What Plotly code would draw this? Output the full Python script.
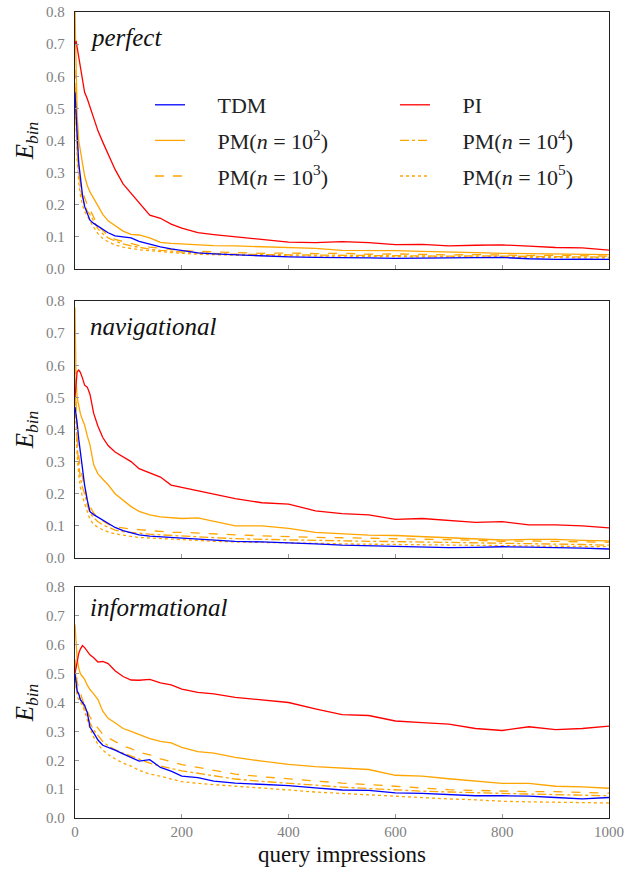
import plotly.graph_objects as go
from plotly.subplots import make_subplots

# query impressions (sample positions)
X = [0, 2, 4, 7, 10, 14, 18, 23, 28, 35, 43, 52, 62, 75, 90, 105, 120, 140, 160, 180,
     200, 230, 260, 300, 350, 400, 450, 500, 550, 600, 650, 700, 750, 800, 850, 900, 950, 1000]

# ---- panel 1: perfect ----
perfect_TDM = [0.55, 0.50, 0.42, 0.33, 0.28, 0.23, 0.195, 0.172, 0.152, 0.142, 0.133, 0.125, 0.113, 0.103, 0.100, 0.097, 0.086, 0.077, 0.069, 0.063,
               0.058, 0.050, 0.047, 0.044, 0.041, 0.038, 0.036, 0.036, 0.035, 0.033, 0.034, 0.035, 0.034, 0.036, 0.032, 0.030, 0.031, 0.030]
perfect_PI = [0.70, 0.71, 0.69, 0.66, 0.62, 0.58, 0.55, 0.53, 0.505, 0.47, 0.43, 0.395, 0.36, 0.31, 0.265, 0.235, 0.205, 0.168, 0.158, 0.140,
              0.127, 0.113, 0.107, 0.100, 0.093, 0.084, 0.082, 0.085, 0.082, 0.076, 0.077, 0.072, 0.074, 0.075, 0.071, 0.067, 0.066, 0.059]
perfect_PM2 = [0.80, 0.62, 0.48, 0.40, 0.37, 0.32, 0.29, 0.26, 0.24, 0.22, 0.195, 0.17, 0.15, 0.135, 0.118, 0.108, 0.106, 0.097, 0.083, 0.080,
               0.078, 0.076, 0.073, 0.072, 0.070, 0.066, 0.064, 0.058, 0.058, 0.057, 0.055, 0.052, 0.051, 0.049, 0.048, 0.047, 0.046, 0.045]
perfect_PM3 = [0.62, 0.50, 0.40, 0.32, 0.27, 0.24, 0.22, 0.20, 0.185, 0.16, 0.135, 0.12, 0.105, 0.092, 0.085, 0.080, 0.073, 0.068, 0.065, 0.060,
               0.058, 0.055, 0.053, 0.050, 0.049, 0.050, 0.048, 0.049, 0.046, 0.047, 0.045, 0.044, 0.045, 0.043, 0.042, 0.043, 0.041, 0.040]
perfect_PM4 = [0.58, 0.46, 0.37, 0.30, 0.25, 0.22, 0.20, 0.18, 0.17, 0.15, 0.125, 0.11, 0.097, 0.087, 0.078, 0.072, 0.067, 0.062, 0.058, 0.055,
               0.053, 0.050, 0.048, 0.046, 0.045, 0.044, 0.043, 0.044, 0.042, 0.042, 0.041, 0.040, 0.041, 0.040, 0.039, 0.038, 0.038, 0.037]
perfect_PM5 = [0.55, 0.42, 0.34, 0.27, 0.23, 0.20, 0.18, 0.165, 0.15, 0.13, 0.11, 0.095, 0.085, 0.075, 0.068, 0.063, 0.060, 0.057, 0.054, 0.051,
               0.049, 0.046, 0.044, 0.043, 0.042, 0.041, 0.040, 0.040, 0.039, 0.039, 0.038, 0.038, 0.037, 0.037, 0.036, 0.036, 0.035, 0.035]

# ---- panel 2: navigational ----
nav_TDM = [0.47, 0.45, 0.42, 0.37, 0.33, 0.28, 0.227, 0.18, 0.144, 0.135, 0.127, 0.118, 0.107, 0.095, 0.085, 0.078, 0.072, 0.068, 0.066, 0.063,
           0.061, 0.059, 0.056, 0.052, 0.050, 0.048, 0.044, 0.040, 0.038, 0.035, 0.034, 0.032, 0.033, 0.035, 0.034, 0.033, 0.031, 0.028]
nav_PI = [0.50, 0.55, 0.58, 0.585, 0.578, 0.56, 0.538, 0.532, 0.51, 0.45, 0.41, 0.375, 0.35, 0.33, 0.315, 0.300, 0.278, 0.265, 0.252, 0.227,
          0.220, 0.210, 0.200, 0.185, 0.172, 0.168, 0.147, 0.138, 0.134, 0.120, 0.123, 0.118, 0.111, 0.113, 0.103, 0.103, 0.100, 0.094]
nav_PM2 = [0.78, 0.55, 0.50, 0.47, 0.45, 0.43, 0.414, 0.38, 0.352, 0.29, 0.262, 0.245, 0.228, 0.20, 0.18, 0.16, 0.145, 0.134, 0.128, 0.125,
           0.123, 0.125, 0.115, 0.100, 0.100, 0.092, 0.080, 0.075, 0.071, 0.070, 0.066, 0.062, 0.060, 0.056, 0.058, 0.058, 0.055, 0.053]
nav_PM3 = [0.60, 0.45, 0.38, 0.32, 0.28, 0.25, 0.22, 0.18, 0.16, 0.14, 0.125, 0.115, 0.105, 0.097, 0.093, 0.090, 0.088, 0.085, 0.082, 0.080,
           0.080, 0.077, 0.074, 0.072, 0.069, 0.066, 0.064, 0.063, 0.062, 0.060, 0.058, 0.057, 0.055, 0.052, 0.053, 0.051, 0.050, 0.049]
nav_PM4 = [0.56, 0.42, 0.35, 0.29, 0.25, 0.22, 0.20, 0.165, 0.14, 0.125, 0.113, 0.103, 0.095, 0.087, 0.082, 0.079, 0.076, 0.074, 0.072, 0.070,
           0.068, 0.065, 0.063, 0.060, 0.058, 0.056, 0.054, 0.053, 0.052, 0.051, 0.050, 0.048, 0.047, 0.046, 0.045, 0.044, 0.042, 0.040]
nav_PM5 = [0.52, 0.39, 0.32, 0.26, 0.22, 0.19, 0.17, 0.14, 0.12, 0.105, 0.095, 0.088, 0.081, 0.075, 0.070, 0.067, 0.064, 0.062, 0.060, 0.058,
           0.056, 0.054, 0.052, 0.050, 0.048, 0.046, 0.045, 0.044, 0.043, 0.042, 0.041, 0.040, 0.039, 0.038, 0.037, 0.036, 0.036, 0.035]

# ---- panel 3: informational ----
inf_TDM = [0.50, 0.47, 0.44, 0.43, 0.41, 0.40, 0.39, 0.365, 0.315, 0.295, 0.27, 0.252, 0.245, 0.235, 0.222, 0.210, 0.197, 0.202, 0.175, 0.162,
           0.145, 0.140, 0.128, 0.121, 0.117, 0.112, 0.104, 0.097, 0.096, 0.087, 0.085, 0.081, 0.077, 0.077, 0.076, 0.071, 0.066, 0.071]
inf_PI = [0.50, 0.52, 0.55, 0.57, 0.585, 0.597, 0.59, 0.578, 0.565, 0.555, 0.54, 0.542, 0.535, 0.51, 0.49, 0.478, 0.477, 0.48, 0.468, 0.461,
          0.446, 0.435, 0.43, 0.418, 0.41, 0.40, 0.378, 0.358, 0.355, 0.336, 0.33, 0.325, 0.31, 0.303, 0.316, 0.306, 0.31, 0.318]
inf_PM2 = [0.67, 0.60, 0.55, 0.52, 0.50, 0.49, 0.48, 0.46, 0.445, 0.43, 0.41, 0.37, 0.345, 0.33, 0.31, 0.30, 0.29, 0.275, 0.265, 0.26,
           0.245, 0.23, 0.225, 0.21, 0.197, 0.186, 0.178, 0.174, 0.168, 0.148, 0.145, 0.136, 0.128, 0.120, 0.120, 0.110, 0.108, 0.103]
inf_PM3 = [0.55, 0.50, 0.47, 0.45, 0.43, 0.41, 0.39, 0.37, 0.35, 0.33, 0.31, 0.29, 0.278, 0.265, 0.25, 0.24, 0.228, 0.219, 0.205, 0.195,
           0.185, 0.175, 0.165, 0.152, 0.143, 0.135, 0.127, 0.121, 0.116, 0.109, 0.104, 0.098, 0.096, 0.092, 0.091, 0.091, 0.088, 0.086]
inf_PM4 = [0.52, 0.47, 0.44, 0.42, 0.41, 0.40, 0.38, 0.355, 0.33, 0.305, 0.285, 0.265, 0.25, 0.237, 0.225, 0.215, 0.203, 0.19, 0.18, 0.172,
           0.163, 0.155, 0.146, 0.135, 0.127, 0.120, 0.113, 0.107, 0.102, 0.097, 0.093, 0.090, 0.087, 0.085, 0.083, 0.081, 0.079, 0.077]
inf_PM5 = [0.48, 0.44, 0.42, 0.41, 0.40, 0.39, 0.37, 0.34, 0.31, 0.28, 0.255, 0.235, 0.22, 0.205, 0.19, 0.18, 0.165, 0.152, 0.145, 0.135,
           0.126, 0.120, 0.115, 0.110, 0.104, 0.096, 0.090, 0.085, 0.080, 0.075, 0.070, 0.066, 0.063, 0.058, 0.056, 0.055, 0.053, 0.052]

PANEL_LABELS = ["perfect", "navigational", "informational"]
X_TICKS = [0, 200, 400, 600, 800, 1000]
Y_TICKS = [0.0, 0.1, 0.2, 0.3, 0.4, 0.5, 0.6, 0.7, 0.8]

LEGEND_TEXT = {
    "TDM": "TDM",
    "PI": "PI",
    "PM2": "PM(<i>n</i> = 10<sup>2</sup>)",
    "PM3": "PM(<i>n</i> = 10<sup>3</sup>)",
    "PM4": "PM(<i>n</i> = 10<sup>4</sup>)",
    "PM5": "PM(<i>n</i> = 10<sup>5</sup>)",
}

panels = [
    {"TDM": perfect_TDM, "PI": perfect_PI, "PM2": perfect_PM2, "PM3": perfect_PM3, "PM4": perfect_PM4, "PM5": perfect_PM5},
    {"TDM": nav_TDM, "PI": nav_PI, "PM2": nav_PM2, "PM3": nav_PM3, "PM4": nav_PM4, "PM5": nav_PM5},
    {"TDM": inf_TDM, "PI": inf_PI, "PM2": inf_PM2, "PM3": inf_PM3, "PM4": inf_PM4, "PM5": inf_PM5},
]

style = {
    "TDM": dict(color="#0000ff", dash="solid"),
    "PI": dict(color="#ff0000", dash="solid"),
    "PM2": dict(color="#ffa500", dash="solid"),
    "PM3": dict(color="#ffa500", dash="dash"),
    "PM4": dict(color="#ffa500", dash="dashdot"),
    "PM5": dict(color="#ffa500", dash="dot"),
}
legend_of = {"TDM": "legend", "PM2": "legend", "PM3": "legend",
             "PI": "legend2", "PM4": "legend2", "PM5": "legend2"}

FONT = "Liberation Serif"
fig = make_subplots(rows=3, cols=1)

draw_order = ["PM5", "PM4", "PM3", "PM2", "PI", "TDM"]
legend_order = ["TDM", "PM2", "PM3", "PI", "PM4", "PM5"]
for r, data in enumerate(panels, start=1):
    for key in draw_order:
        st = style[key]
        fig.add_trace(go.Scatter(
            x=X, y=data[key], mode="lines",
            line=dict(color=st["color"], width=1.3, dash=st["dash"]),
            name="&nbsp;&nbsp;&nbsp;&nbsp;&nbsp;" + LEGEND_TEXT[key],
            legend=legend_of[key], legendgroup=key,
            legendrank=legend_order.index(key) + 1,
            showlegend=(r == 1), hoverinfo="skip",
        ), row=r, col=1)

domains = [[0.6811, 1.0], [0.3226, 0.6414], [0.0, 0.2866]]
for r in range(1, 4):
    fig.update_xaxes(
        range=[0, 1000], tickvals=X_TICKS, showticklabels=(r == 3),
        ticks="inside", ticklen=4, tickcolor="#999999",
        showline=True, linecolor="#222222", linewidth=1.3, mirror=True,
        showgrid=False, zeroline=False, automargin=False,
        tickfont=dict(family=FONT, size=15, color="#808080"),
        row=r, col=1)
    fig.update_yaxes(
        range=[0, 0.8], tickvals=Y_TICKS, tickformat=".1f",
        ticks="inside", ticklen=4, tickcolor="#999999",
        showline=True, linecolor="#222222", linewidth=1.3, mirror=True,
        showgrid=False, zeroline=False, domain=domains[r - 1], automargin=False,
        tickfont=dict(family=FONT, size=15, color="#808080"),
        ticklabelstandoff=6,
        title=dict(text="<i>E</i><sub><i>bin</i></sub>", font=dict(family=FONT, size=25, color="#111111"), standoff=5),
        row=r, col=1)

fig.update_xaxes(title=dict(text="query impressions", font=dict(family=FONT, size=23, color="#111111"), standoff=6), row=3, col=1)

label_y = [0.90, 0.90, 0.913]
xrefs = ["x domain", "x2 domain", "x3 domain"]
yrefs = ["y domain", "y2 domain", "y3 domain"]
for i, lab in enumerate(PANEL_LABELS):
    fig.add_annotation(text="<i>%s</i>" % lab, xref=xrefs[i], yref=yrefs[i],
                       x=0.025, y=label_y[i], xanchor="left", yanchor="middle",
                       showarrow=False, font=dict(family=FONT, size=25, color="#111111"))

legend_common = dict(yanchor="top", xanchor="left", bgcolor="rgba(0,0,0,0)",
                     font=dict(family=FONT, size=22, color="#222222"), tracegroupgap=4,
                     orientation="v")
fig.update_layout(
    width=644, height=872,
    margin=dict(l=75, r=35, t=12, b=54, autoexpand=False),
    plot_bgcolor="white", paper_bgcolor="white",
    font=dict(family=FONT),
    legend=dict(x=(150 - 75) / 534, y=(818 - 84) / 806, **legend_common),
    legend2=dict(x=(395 - 75) / 534, y=(818 - 84) / 806, **legend_common),
)

# remove the browser's default page margin so the figure sits at the window's corner
fig.write_html("out.html", config={"displayModeBar": False},
               post_script="document.body.style.margin='0';")
